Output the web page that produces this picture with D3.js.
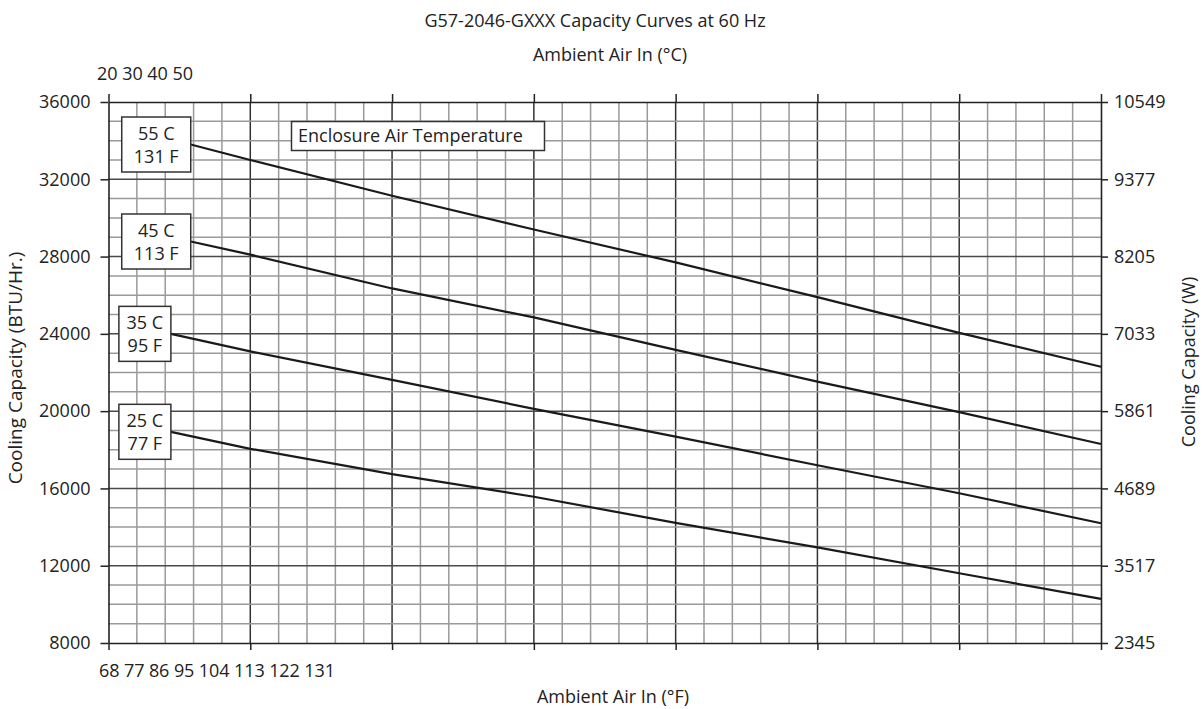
<!DOCTYPE html>
<html>
<head>
<meta charset="utf-8">
<script src="https://cdn.jsdelivr.net/npm/d3@7"></script>
<style>
  body { margin: 0; background: #fff; }
  svg { display: block; font-family: "Open Sans", sans-serif; }
</style>
</head>
<body>
<div id="chart-area"></div>
<script>
// ambient air in (°C) at the major grid lines
const majorC = [20, 25, 30, 35, 40, 45, 50, 55];
const ambientC = [25, 30, 35, 40, 45, 50, 55];

// cooling capacity (BTU/Hr.) per enclosure air temperature
const cap55 = [33000, 31150, 29400, 27700, 25900, 24050, 22300];
const cap45 = [28100, 26350, 24850, 23170, 21530, 19950, 18300];
const cap35 = [23090, 21620, 20120, 18680, 17200, 15750, 14200];
const cap25 = [18050, 16740, 15570, 14220, 12950, 11610, 10280];

// where each curve comes out of its label box
const curveStartC = [22.9, 22.9, 22.2, 22.2];
const curveStartCap = [33800, 28780, 24000, 18930];

const curveLabels = [["55 C", "131 F"], ["45 C", "113 F"], ["35 C", "95 F"], ["25 C", "77 F"]];

const btuTicks = [8000, 12000, 16000, 20000, 24000, 28000, 32000, 36000];
const wattLabels = ["2345", "3517", "4689", "5861", "7033", "8205", "9377", "10549"];
const celsiusLabels = ["20", "30", "40", "50"];
const fahrenheitLabels = ["68", "77", "86", "95", "104", "113", "122", "131"];

const series = [cap55, cap45, cap35, cap25].map((vals, i) => ({
  labels: curveLabels[i],
  points: [{ c: curveStartC[i], v: curveStartCap[i] }]
    .concat(ambientC.map((c, j) => ({ c: c, v: vals[j] })))
}));

const width = 1204;
const height = 709;
const plotLeft = 108.5, plotRight = 1101, plotTop = 102, plotBottom = 643;

const svg = d3.select("#chart-area")
  .append("svg")
  .attr("width", width)
  .attr("height", height);

const x = d3.scaleLinear().domain([20, 55]).range([plotLeft, plotRight]);
const y = d3.scaleLinear().domain([8000, 36000]).range([plotBottom, plotTop]);

// grid: 1 °C and 1000 BTU steps, darker every 5 °C / 4000 BTU
const grid = svg.append("g");
grid.selectAll("line.v")
  .data(d3.range(21, 55))
  .enter()
  .append("line")
  .attr("x1", d => x(d)).attr("x2", d => x(d))
  .attr("y1", plotTop).attr("y2", plotBottom)
  .attr("stroke", d => d % 5 === 0 ? "#333" : "#9a9a9a")
  .attr("stroke-width", 1.5);

grid.selectAll("line.h")
  .data(d3.range(9000, 36000, 1000))
  .enter()
  .append("line")
  .attr("x1", plotLeft).attr("x2", plotRight)
  .attr("y1", d => y(d)).attr("y2", d => y(d))
  .attr("stroke", d => d % 4000 === 0 ? "#4a4a4a" : "#9a9a9a")
  .attr("stroke-width", 1.5);

// axes
const axisStyle = g => {
  g.select(".domain").attr("stroke", "#222").attr("stroke-width", 1.6);
  g.selectAll(".tick line").attr("stroke", "#222").attr("stroke-width", 1.5);
  g.selectAll("text").style("font-size", "18px").attr("fill", "#222")
    .style("font-family", "'Open Sans', sans-serif");
};

svg.append("g")
  .attr("transform", `translate(${plotLeft},0)`)
  .call(d3.axisLeft(y).tickValues(btuTicks).tickSize(8).tickSizeOuter(0).tickPadding(10)
    .tickFormat(d3.format("d")))
  .call(axisStyle);

svg.append("g")
  .attr("transform", `translate(${plotRight},0)`)
  .call(d3.axisRight(y).tickValues(btuTicks).tickSize(7).tickSizeOuter(0).tickPadding(6)
    .tickFormat((d, i) => wattLabels[i]))
  .call(axisStyle);

svg.append("g")
  .attr("transform", `translate(0,${plotTop})`)
  .call(d3.axisTop(x).tickValues(majorC).tickSize(8).tickSizeOuter(0).tickFormat(""))
  .call(axisStyle);

svg.append("g")
  .attr("transform", `translate(0,${plotBottom})`)
  .call(d3.axisBottom(x).tickValues(majorC).tickSize(7).tickSizeOuter(0).tickFormat(""))
  .call(axisStyle);

// capacity curves
const line = d3.line().x(d => x(d.c)).y(d => y(d.v));
svg.append("g").selectAll("path")
  .data(series)
  .enter()
  .append("path")
  .attr("d", d => line(d.points))
  .attr("fill", "none")
  .attr("stroke", "#1a1a1a")
  .attr("stroke-width", 2.2);

// curve label boxes, right edge at the curve start, centred on it
svg.append("g").selectAll("g")
  .data(series)
  .enter()
  .append("g")
  .each(function (d) {
    const w = d.labels[1].length > 4 ? 69 : 52;
    const bx = x(d.points[0].c) - w;
    const cy = y(d.points[0].v);
    const g = d3.select(this);
    g.append("rect")
      .attr("x", bx).attr("y", cy - 27.5)
      .attr("width", w).attr("height", 55)
      .attr("fill", "#fff").attr("stroke", "#333").attr("stroke-width", 1.5);
    g.selectAll("text")
      .data(d.labels)
      .enter()
      .append("text")
      .attr("x", bx + w / 2)
      .attr("y", (t, i) => cy - 4.5 + i * 22.5)
      .attr("text-anchor", "middle")
      .style("font-size", "18px")
      .attr("fill", "#222")
      .text(t => t);
  });

// legend title box
svg.append("rect")
  .attr("x", 291.5).attr("y", 121.5)
  .attr("width", 253).attr("height", 29)
  .attr("fill", "#fff").attr("stroke", "#333").attr("stroke-width", 1.5);
svg.append("text")
  .attr("x", 298).attr("y", 142)
  .style("font-size", "18px").attr("fill", "#222")
  .text("Enclosure Air Temperature");

// titles and crowded tick label rows
svg.append("text")
  .attr("x", 595).attr("y", 27)
  .attr("text-anchor", "middle")
  .style("font-size", "18px").attr("fill", "#222")
  .text("G57-2046-GXXX Capacity Curves at 60 Hz");

svg.append("text")
  .attr("x", 610).attr("y", 61)
  .attr("text-anchor", "middle")
  .style("font-size", "18px").attr("fill", "#222")
  .text("Ambient Air In (°C)");

svg.append("text")
  .attr("x", 97).attr("y", 80)
  .attr("textLength", 96).attr("lengthAdjust", "spacing")
  .style("font-size", "18px").attr("fill", "#222")
  .text(celsiusLabels.join(" "));

svg.append("text")
  .attr("x", 99).attr("y", 677)
  .attr("textLength", 236).attr("lengthAdjust", "spacing")
  .style("font-size", "18px").attr("fill", "#222")
  .text(fahrenheitLabels.join(" "));

svg.append("text")
  .attr("x", 613).attr("y", 703)
  .attr("text-anchor", "middle")
  .style("font-size", "18px").attr("fill", "#222")
  .text("Ambient Air In (°F)");

svg.append("text")
  .attr("transform", "translate(22,368) rotate(-90)")
  .attr("text-anchor", "middle")
  .style("font-size", "19px").attr("fill", "#222")
  .text("Cooling Capacity (BTU/Hr.)");

svg.append("text")
  .attr("transform", "translate(1195,362) rotate(-90)")
  .attr("text-anchor", "middle")
  .style("font-size", "18px").attr("fill", "#222")
  .text("Cooling Capacity (W)");
</script>
</body>
</html>
